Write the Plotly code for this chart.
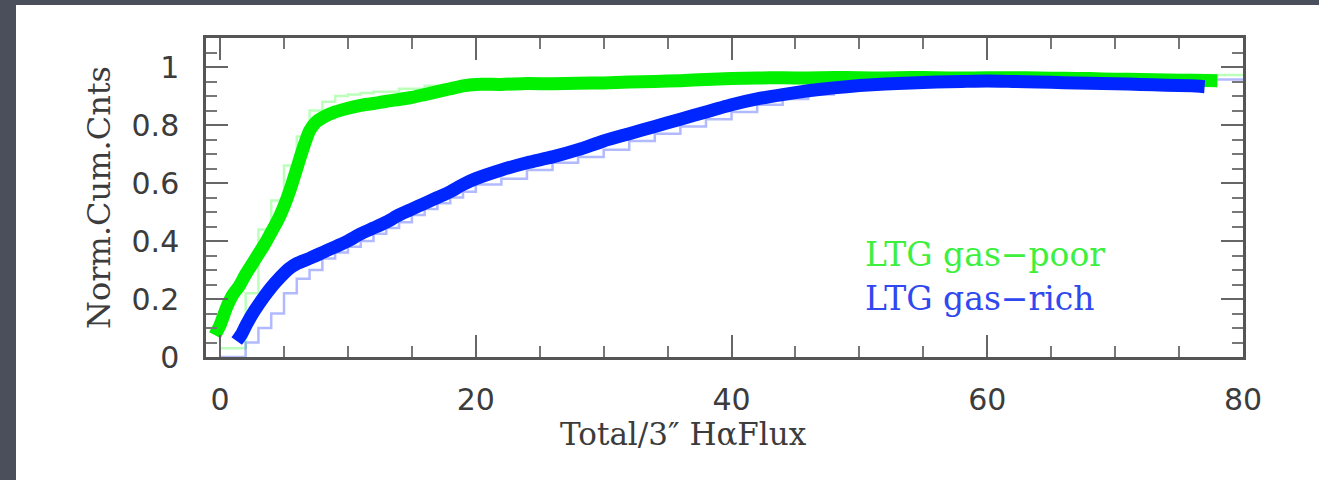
import plotly.graph_objects as go

# Cumulative-count bands (thick curves) for the two samples
poor_x = [-0.4, 0.0, 0.5, 1.0, 1.5, 2.0, 2.5, 3.0, 3.5, 4.0, 4.5, 5.0, 5.5, 6.0, 6.5, 7.0,
          7.5, 8.0, 9.0, 10, 11, 12, 13, 14, 15, 16, 17, 18, 19, 20, 22, 24, 26, 28, 30,
          32, 34, 36, 38, 40, 42, 44, 46, 48, 50, 52, 54, 56, 58, 60, 62, 64, 66, 68, 70,
          72, 74, 76, 78]
poor_y = [0.075, 0.11, 0.17, 0.215, 0.245, 0.285, 0.32, 0.355, 0.39, 0.43, 0.47, 0.52, 0.58,
          0.65, 0.72, 0.78, 0.81, 0.825, 0.845, 0.858, 0.868, 0.874, 0.882, 0.888, 0.895,
          0.905, 0.915, 0.925, 0.935, 0.94, 0.94, 0.943, 0.942, 0.944, 0.945, 0.948, 0.95,
          0.953, 0.957, 0.96, 0.962, 0.963, 0.962, 0.964, 0.963, 0.962, 0.964, 0.963, 0.962,
          0.963, 0.963, 0.962, 0.961, 0.96, 0.958, 0.957, 0.955, 0.954, 0.953]

rich_x = [1.3, 1.7, 2.1, 2.7, 3.4, 4.0, 4.7, 5.4, 6.0, 7.0, 8, 9, 10, 11, 12, 13, 14, 15, 16,
          17, 18, 19, 20, 22, 24, 26, 28, 30, 32, 34, 36, 38, 40, 42, 44, 46, 48, 50, 52, 54,
          56, 58, 60, 62, 64, 66, 68, 70, 72, 74, 76, 77]
rich_y = [0.055, 0.08, 0.115, 0.16, 0.205, 0.24, 0.275, 0.305, 0.322, 0.34, 0.36, 0.38, 0.40,
          0.425, 0.445, 0.465, 0.49, 0.51, 0.53, 0.55, 0.57, 0.595, 0.615, 0.645, 0.67, 0.69,
          0.715, 0.745, 0.77, 0.795, 0.82, 0.845, 0.87, 0.89, 0.905, 0.918, 0.928, 0.936,
          0.941, 0.945, 0.948, 0.95, 0.952, 0.95, 0.948, 0.946, 0.944, 0.942, 0.94, 0.937,
          0.935, 0.932]

# Binned cumulative histograms (left bin edges and step heights)
poor_step_x = [0, 2, 3, 4, 5, 6, 7, 8, 9, 10, 11, 12, 14, 16, 18, 20, 22, 26, 30, 35, 40,
               45, 50, 60, 70, 80]
poor_step_y = [0.03, 0.22, 0.44, 0.54, 0.66, 0.76, 0.85, 0.88, 0.90, 0.905, 0.91, 0.915,
               0.925, 0.935, 0.945, 0.95, 0.952, 0.955, 0.958, 0.962, 0.966, 0.968, 0.97,
               0.972, 0.972, 0.972]
rich_step_x = [0, 2, 3, 4, 5, 6, 7, 8, 9, 10, 11, 12, 13, 14, 15, 16, 17, 18, 19, 20, 22, 24,
               26, 28, 30, 32, 34, 36, 38, 40, 42, 44, 46, 48, 50, 55, 60, 80]
rich_step_y = [0.0, 0.05, 0.10, 0.15, 0.22, 0.27, 0.30, 0.34, 0.36, 0.38, 0.40, 0.425, 0.445,
               0.465, 0.49, 0.51, 0.53, 0.55, 0.57, 0.595, 0.615, 0.645, 0.67, 0.69, 0.715,
               0.745, 0.77, 0.795, 0.82, 0.845, 0.87, 0.89, 0.905, 0.918, 0.93, 0.945, 0.957,
               0.957]

x_ticks = [0, 20, 40, 60, 80]
x_tick_text = ["0", "20", "40", "60", "80"]
y_ticks = [0, 0.2, 0.4, 0.6, 0.8, 1.0]
y_tick_text = ["0", "0.2", "0.4", "0.6", "0.8", "1"]

labels = ["LTG gas\u2212poor", "LTG gas\u2212rich"]

GREEN = "#00f000"
BLUE = "#0026ff"
AXIS = "#555555"
TEXT = "#3c3c3c"

W, H = 1319, 480
L, R, T, B = 206, 1243, 38, 357

fig = go.Figure()

fig.add_trace(go.Scatter(x=poor_step_x, y=poor_step_y, mode="lines",
                         line=dict(shape="hv", color="rgba(60,255,60,0.35)", width=2.5),
                         hoverinfo="skip", showlegend=False))
fig.add_trace(go.Scatter(x=rich_step_x, y=rich_step_y, mode="lines",
                         line=dict(shape="hv", color="rgba(60,80,255,0.4)", width=2.5),
                         hoverinfo="skip", showlegend=False))
fig.add_trace(go.Scatter(x=poor_x, y=poor_y, mode="lines", name=labels[0],
                         line=dict(color=GREEN, width=13, shape="spline", smoothing=0.5),
                         showlegend=False))
fig.add_trace(go.Scatter(x=rich_x, y=rich_y, mode="lines", name=labels[1],
                         line=dict(color=BLUE, width=13, shape="spline", smoothing=0.5),
                         showlegend=False))

# white page panel on the dark slide
pw, ph = R - L, B - T
fig.add_shape(type="rect", xref="paper", yref="paper", layer="below",
              x0=(16 - L) / pw, x1=(W - L) / pw, y0=(B - H) / ph, y1=(B - 5) / ph,
              fillcolor="white", line=dict(width=0))

serif = "DejaVu Serif"
fig.add_annotation(x=50.3, y=0.352, xref="x", yref="y", text=labels[0], showarrow=False,
                   xanchor="left", yanchor="middle",
                   font=dict(family=serif, size=33, color="#3ef03e"))
fig.add_annotation(x=50.3, y=0.202, xref="x", yref="y", text=labels[1], showarrow=False,
                   xanchor="left", yanchor="middle",
                   font=dict(family=serif, size=33, color="#3048f0"))
fig.add_annotation(x=(683 - L) / pw, y=(B - 434) / ph, xref="paper", yref="paper",
                   text="Total/3\u2033 H\u03b1Flux", showarrow=False,
                   xanchor="center", yanchor="middle",
                   font=dict(family=serif, size=31, color=TEXT))

axis_common = dict(showline=True, linecolor=AXIS, linewidth=2.5, mirror="allticks",
                   ticks="inside", ticklen=22, tickwidth=2.2, tickcolor="#666666",
                   showgrid=False, zeroline=False,
                   tickfont=dict(family="DejaVu Sans", size=30, color=TEXT))

fig.update_xaxes(range=[-1.1, 80], tickvals=x_ticks, ticktext=x_tick_text,
                 ticklabelstandoff=14,
                 minor=dict(dtick=5, tick0=0, ticks="inside", ticklen=11, tickwidth=2,
                            tickcolor="#777777"),
                 **axis_common)
fig.update_yaxes(range=[0, 1.1], tickvals=y_ticks, ticktext=y_tick_text,
                 ticklabelstandoff=18,
                 title=dict(text="Norm.Cum.Cnts", standoff=12,
                            font=dict(family=serif, size=32, color=TEXT)),
                 minor=dict(dtick=0.05, tick0=0, ticks="inside", ticklen=11, tickwidth=2,
                            tickcolor="#777777"),
                 **axis_common)

fig.update_layout(width=W, height=H,
                  margin=dict(l=L, r=W - R, t=T, b=H - B, pad=0),
                  paper_bgcolor="#4a4f5b", plot_bgcolor="white",
                  showlegend=False)

fig.write_html("out.html")
